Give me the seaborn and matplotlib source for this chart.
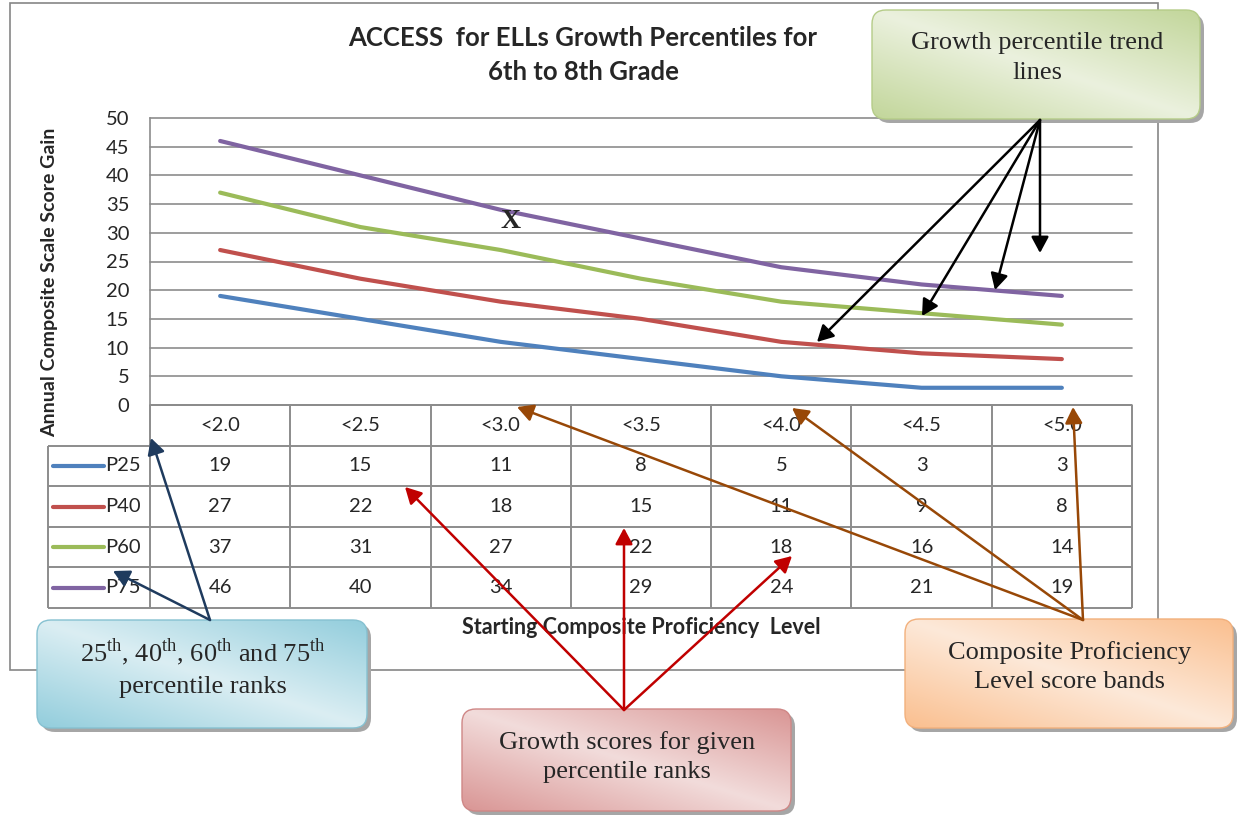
import numpy as np
import pandas as pd
import matplotlib
matplotlib.use("Agg")
import matplotlib.pyplot as plt
from matplotlib.colors import to_rgb
from matplotlib.patches import FancyBboxPatch, Rectangle
import seaborn as sns

# --- data ---
categories = ["<2.0", "<2.5", "<3.0", "<3.5", "<4.0", "<4.5", "<5.0"]
series_names = ["P25", "P40", "P60", "P75"]
p25 = [19, 15, 11, 8, 5, 3, 3]
p40 = [27, 22, 18, 15, 11, 9, 8]
p60 = [37, 31, 27, 22, 18, 16, 14]
p75 = [46, 40, 34, 29, 24, 21, 19]
y_ticks = list(range(0, 55, 5))

colors = ["#4F81BD", "#C0504D", "#9BBB59", "#8064A2"]
grid_gray = "#8C8C8C"

sns.set_style("white")
plt.rcParams["font.family"] = ["Lato", "DejaVu Sans"]
plt.rcParams["mathtext.fontset"] = "custom"
plt.rcParams["mathtext.rm"] = "Liberation Serif"

W, H = 1237, 818
fig = plt.figure(figsize=(W / 100, H / 100), dpi=100)


def px_box(l, t, r, b):
    # pixel box (top-left origin) -> figure fraction rect
    return [l / W, 1 - b / H, (r - l) / W, (b - t) / H]


series_vals = [p25, p40, p60, p75]
n = len(categories)
df = pd.DataFrame({
    "pos": np.tile(np.arange(n), len(series_names)),
    "gain": sum(series_vals, []),
    "series": np.repeat(series_names, n),
})

# --- line chart ---
ax = fig.add_axes(px_box(150, 118, 1132, 405))
sns.lineplot(data=df, x="pos", y="gain", hue="series", hue_order=series_names,
             palette=colors, linewidth=3, legend=False, ax=ax,
             solid_capstyle="round")
ax.set_xlim(-0.5, n - 0.5)
ax.set_ylim(0, 50)
ax.set_yticks(y_ticks)
ax.set_xticks([])
ax.set_xlabel("")
ax.set_ylabel("")
ax.yaxis.grid(True, color=grid_gray, lw=1.2)
for gl in ax.get_ygridlines():
    gl.set_clip_on(False)
for s in ["top", "right", "bottom"]:
    ax.spines[s].set_visible(False)
ax.spines["left"].set_color(grid_gray)
ax.spines["left"].set_linewidth(1.2)
ax.tick_params(axis="y", length=0, pad=15, labelsize=14.5)
ax.text(2.07, 32, "X", fontsize=20, fontweight="bold", family="Liberation Serif",
        ha="center", va="center")

# --- data table under the chart ---
tab = fig.add_axes(px_box(150, 405, 1132, 608))
tab.set_xlim(-0.5, n - 0.5)
tab.set_ylim(len(series_names) + 1, 0)
tab.axis("off")
label_w = 0.727
x0 = -0.5 - label_w
nr = len(series_names) + 1
kw = dict(color=grid_gray, lw=1.4, clip_on=False, solid_capstyle="butt")
tab.plot([-0.5, n - 0.5], [0, 0], **kw)
for r in range(1, nr + 1):
    tab.plot([x0, n - 0.5], [r, r], **kw)
tab.plot([x0, x0], [1, nr], **kw)
for c in range(n + 1):
    tab.plot([c - 0.5, c - 0.5], [0, nr], **kw)
for i, cat in enumerate(categories):
    tab.text(i, 0.5, cat, ha="center", va="center", fontsize=14.5)
for r, (name, vals, col) in enumerate(zip(series_names, series_vals, colors), start=1):
    tab.plot([x0 + 0.036, x0 + 0.40], [r + 0.5] * 2, color=col, lw=3,
             solid_capstyle="round", clip_on=False)
    tab.text(x0 + 0.41, r + 0.5, name, ha="left", va="center", fontsize=14.5)
    for i, v in enumerate(vals):
        tab.text(i, r + 0.5, str(v), ha="center", va="center", fontsize=14.5)

# --- overlay for titles, border, callouts ---
ov = fig.add_axes([0, 0, 1, 1], zorder=10)
ov.axis("off")

ov.add_patch(Rectangle((10, 3), 1148, 667, fill=False, ec="#868686", lw=1.2, zorder=1))
ov.text(583, 55, "ACCESS  for ELLs Growth Percentiles for\n6th to 8th Grade",
        ha="center", va="center", fontsize=18.5, fontweight="bold", linespacing=1.5)
ov.text(50, 282, "Annual Composite Scale Score Gain", rotation=90, ha="center",
        va="center", fontsize=14, fontweight="bold")
ov.text(641, 628, "Starting Composite Proficiency  Level", ha="center", va="center",
        fontsize=15.5, fontweight="bold")


def callout(l, t, r, b, dark, light, edge, text, tx, ty):
    style = "round,pad=0,rounding_size=14"
    ov.add_patch(FancyBboxPatch((l + 4, t + 4), r - l, b - t, boxstyle=style,
                                fc="#A6A6A6", ec="none", zorder=3))
    patch = FancyBboxPatch((l, t), r - l, b - t, boxstyle=style, fc="none",
                           ec=edge, lw=1.0, zorder=5)
    ov.add_patch(patch)
    U, V = np.meshgrid(np.linspace(0, 1, 300), np.linspace(0, 1, 120))
    d = np.abs(U - V)[..., None]
    dk, lt = np.array(to_rgb(dark)), np.array(to_rgb(light))
    img = lt + (dk - lt) * d
    im = ov.imshow(img, extent=(l, r, b, t), zorder=4, aspect="auto",
                   interpolation="bilinear")
    im.set_clip_path(patch)
    ov.text(tx, ty, text, ha="center", va="center", fontsize=19,
            family="Liberation Serif", zorder=6, linespacing=1.45)


def arrows(origin, tips, color):
    for tip in tips:
        ov.annotate("", xy=tip, xytext=origin, zorder=7,
                    arrowprops=dict(arrowstyle="-|>,head_length=0.65,head_width=0.35",
                                    color=color, lw=1.8, shrinkA=0, shrinkB=0,
                                    mutation_scale=15))


callout(872, 10, 1200, 119, "#C2D69A", "#EBF1DE", "#B5CC88",
        "Growth percentile trend\nlines", 1037, 58)
callout(37, 620, 367, 728, "#92CDDC", "#DBEEF3", "#86C1D1",
        r"25$^{\mathrm{th}}$, 40$^{\mathrm{th}}$, 60$^{\mathrm{th}}$ and 75$^{\mathrm{th}}$"
        "\npercentile ranks", 203, 667)
callout(462, 709, 791, 811, "#D99594", "#F2DCDB", "#CF8786",
        "Growth scores for given\npercentile ranks", 627, 757)
callout(905, 619, 1233, 728, "#FABF8F", "#FDE9D9", "#F2B07C",
        "Composite Proficiency\nLevel score bands", 1070, 667)

arrows((1040, 120), [(1040, 253), (995, 290), (922, 316), (817, 342)], "black")
arrows((210, 620), [(151, 438), (113, 571)], "#1F3B5E")
arrows((624, 710), [(405, 487), (624, 528), (792, 556)], "#C00000")
arrows((1083, 620), [(517, 407), (792, 408), (1073, 407)], "#984807")

ov.set_xlim(0, W)
ov.set_ylim(H, 0)

fig.savefig("out.png", dpi=100)
